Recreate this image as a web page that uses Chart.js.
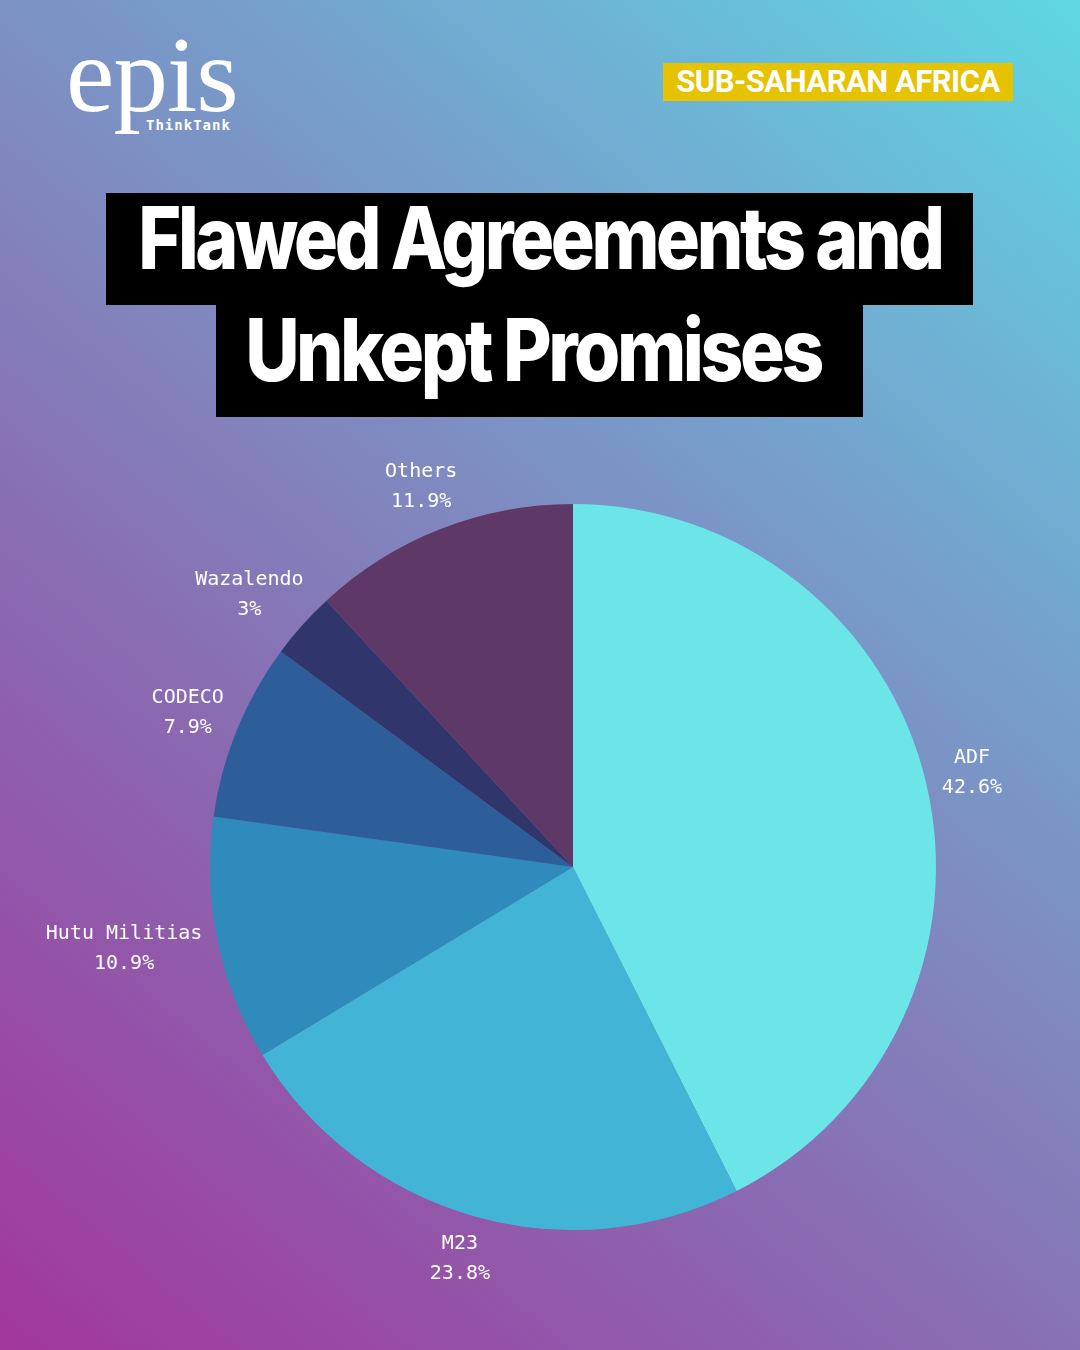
<!DOCTYPE html>
<html>
<head>
<meta charset="utf-8">
<script src="https://cdn.jsdelivr.net/npm/chart.js@4/dist/chart.umd.min.js"></script>
<style>
  html, body { margin: 0; padding: 0; }
  body {
    width: 1080px; height: 1350px; position: relative; overflow: hidden;
    background: linear-gradient(40deg, #a2379c 0%, #8d62ae 30%, #7f8ac0 55%, #6eb2d4 80%, #5ed8e2 100%);
    font-family: "Inter", sans-serif;
  }
  .logo { position: absolute; left: 66px; top: 20px; color: #fff; }
  .logo .word { font-family: "Liberation Serif", serif; font-size: 109px; line-height: 1; letter-spacing: -1px; }
  .logo .sub { position: absolute; left: 80px; top: 97px; font-family: "DejaVu Sans Mono", monospace; font-weight: bold; font-size: 14px; letter-spacing: 1px; }
  .tag {
    position: absolute; left: 663px; top: 63px; width: 350px; height: 38px;
    background: #e6c300; color: #fff; font-family: "Roboto", sans-serif; font-weight: 700;
    font-size: 31px; line-height: 38px; text-align: center; letter-spacing: -0.5px;
  }
  .title {
    position: absolute; background: #000; color: #fff; font-family: "Inter", sans-serif;
    font-weight: 800; font-size: 86px; letter-spacing: -4px;
    height: 112px; line-height: 90px; white-space: nowrap; overflow: hidden;
  }
  .title span { position: absolute; left: 50%; top: 0; transform: translateX(-50%) scaleX(0.87); }
  .t1 { left: 106px; top: 193px; width: 867px; }
  .t1 span { transform: translateX(-50%) scaleX(0.853); }
  .t2 { left: 216px; top: 305px; width: 647px; }
  .t2 span { left: 49%; }
  #wrap { position: absolute; left: 0; top: 0; width: 1080px; height: 1350px; }
</style>
</head>
<body>
<div class="logo"><div class="word">epis</div><div class="sub">ThinkTank</div></div>
<div class="tag">SUB-SAHARAN AFRICA</div>
<div class="title t1"><span>Flawed Agreements and</span></div>
<div class="title t2"><span>Unkept Promises</span></div>
<div id="wrap"><canvas id="pie"></canvas></div>
<script>
// slices, clockwise from 12 o'clock
const labels = ['ADF', 'M23', 'Hutu Militias', 'CODECO', 'Wazalendo', 'Others'];
const shares = [42.6, 23.8, 10.9, 7.9, 3, 11.9];
const colors = ['#6ce5e8', '#42b5d6', '#2e8bbb', '#2e5e99', '#30356b', '#5e3866'];

// two-line labels placed just outside each slice
const outsideLabels = {
  id: 'outsideLabels',
  afterDatasetsDraw(chart) {
    const ctx = chart.ctx;
    const meta = chart.getDatasetMeta(0);
    ctx.save();
    ctx.fillStyle = '#ffffff';
    ctx.font = '20px "DejaVu Sans Mono", monospace';
    ctx.textAlign = 'center';
    ctx.textBaseline = 'middle';
    meta.data.forEach((arc, i) => {
      const p = arc.getProps(['x', 'y', 'startAngle', 'endAngle', 'outerRadius'], true);
      const mid = (p.startAngle + p.endAngle) / 2;
      const r = p.outerRadius + 17;
      const l1 = labels[i], l2 = shares[i] + '%';
      const halfW = Math.max(ctx.measureText(l1).width, ctx.measureText(l2).width) / 2;
      const halfH = 28;
      const cx = p.x + r * Math.cos(mid) + halfW * Math.cos(mid);
      const cy = p.y + r * Math.sin(mid) + halfH * Math.sin(mid);
      ctx.fillText(l1, cx, cy - 15);
      ctx.fillText(l2, cx, cy + 15);
    });
    ctx.restore();
  }
};

new Chart(document.getElementById('pie'), {
  type: 'pie',
  data: {
    labels,
    datasets: [{ data: shares, backgroundColor: colors, borderWidth: 0 }]
  },
  options: {
    responsive: true, maintainAspectRatio: false, animation: false,
    layout: { padding: { left: 210, right: 144, top: 504, bottom: 120 } },
    plugins: { legend: { display: false }, tooltip: { enabled: false } }
  },
  plugins: [outsideLabels]
});
</script>
</body>
</html>
